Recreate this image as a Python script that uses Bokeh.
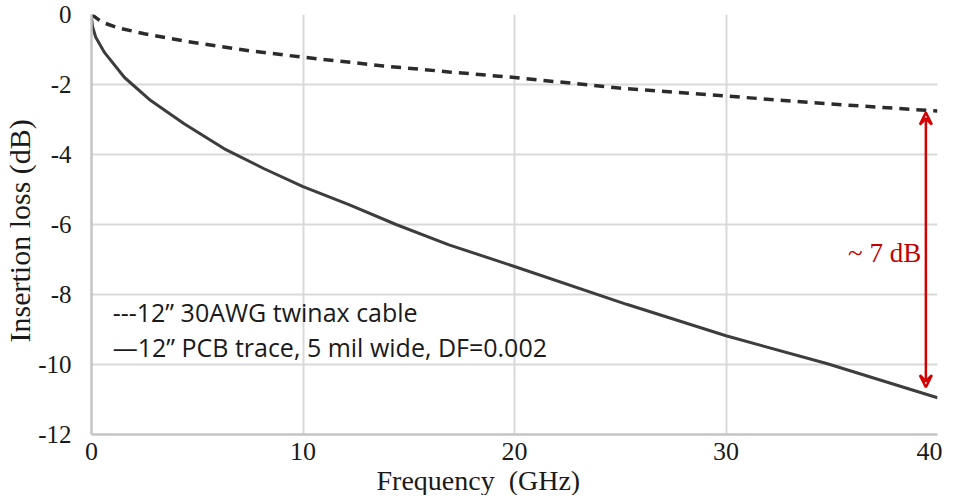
from bokeh.plotting import figure
from bokeh.models import Label, Arrow, VeeHead, FixedTicker, Range1d, Title
from bokeh.embed import file_html
from bokeh.resources import INLINE

# ---- data ----
freq_twinax = [0, 0.5, 1.25, 2.5, 4.4, 7.5, 10, 13.8, 16.9, 20, 25.3, 30, 34.8, 40]
loss_twinax = [0, -0.22, -0.38, -0.55, -0.76, -1.04, -1.22, -1.47, -1.64, -1.8, -2.12, -2.33, -2.55, -2.76]

freq_pcb = [0, 0.05, 0.2, 0.62, 1.56, 2.8, 4.38, 6.26, 8.14, 10, 12.2, 14.4, 16.9, 20, 25.3, 30, 34.8, 40]
loss_pcb = [-0.1, -0.35, -0.65, -1.09, -1.8, -2.46, -3.12, -3.83, -4.4, -4.92, -5.44, -6.0, -6.58, -7.2, -8.28, -9.18, -9.98, -10.95]

x_ticks = [0, 10, 20, 30, 40]
y_ticks = [-12, -10, -8, -6, -4, -2, 0]

x_title = "Frequency\u00a0 (GHz)"
y_title = "Insertion loss (dB)"
legend_texts = ["---12\u201d 30AWG twinax cable", "\u201412\u201d PCB trace, 5 mil wide, DF=0.002"]
gap_text = "~ 7 dB"
gap_freq = 39.45
gap_top = -2.8
gap_bottom = -10.65

p = figure(frame_width=846, frame_height=420, output_backend="svg", toolbar_location=None,
           x_range=Range1d(0, 40), y_range=Range1d(-12, 0),
           min_border_left=89, min_border_right=5, min_border_top=14, min_border_bottom=60)
p.background_fill_color = "white"
p.border_fill_color = "white"
p.outline_line_color = None

for ax in (p.xaxis[0], p.yaxis[0]):
    ax.axis_line_color = "#c4c4c4"
    ax.axis_line_width = 2.5
    ax.major_tick_line_color = None
    ax.minor_tick_line_color = None
    ax.major_label_text_font = "Liberation Serif"
    ax.major_label_text_color = "#1a1a1a"

p.xaxis.major_label_text_font_size = "26px"
p.yaxis.major_label_text_font_size = "25px"
p.xaxis.ticker = FixedTicker(ticks=x_ticks)
p.yaxis.ticker = FixedTicker(ticks=y_ticks)
p.yaxis.major_label_overrides = {t: str(t) for t in y_ticks}
p.xaxis.major_label_standoff = 2
p.yaxis.major_label_standoff = 14

p.xgrid.ticker = FixedTicker(ticks=x_ticks)
p.ygrid.ticker = FixedTicker(ticks=y_ticks)
p.grid.grid_line_color = "#d9d9d9"
p.grid.grid_line_width = 2

# curves
p.line(freq_twinax, loss_twinax, line_color="#2b2b2b", line_width=3.5, line_dash="10 7")
p.line(freq_pcb, loss_pcb, line_color="#3d3d3d", line_width=3)

# axis titles
p.add_layout(Title(text=x_title, align="left", offset=285, standoff=0,
                   text_font="Liberation Serif", text_font_size="28px",
                   text_font_style="normal", text_color="#1a1a1a"), "below")
p.add_layout(Title(text=y_title, align="left", offset=92, standoff=0,
                   text_font="Liberation Serif", text_font_size="30px",
                   text_font_style="normal", text_color="#1a1a1a"), "left")

# legend texts
p.add_layout(Label(x=1.0, y=-8.51, text=legend_texts[0], text_font="Open Sans",
                   text_font_size="25px", text_color="#1a1a1a", text_baseline="alphabetic"))
p.add_layout(Label(x=1.0, y=-9.51, text=legend_texts[1], text_font="Open Sans",
                   text_font_size="25px", text_color="#1a1a1a", text_baseline="alphabetic"))

# gap annotation
red = "#d40000"
p.add_layout(Arrow(x_start=gap_freq, y_start=gap_bottom, x_end=gap_freq, y_end=gap_top,
                   line_color=red, line_width=2.5,
                   start=VeeHead(size=12, line_color=red, line_width=2.5, fill_color=None, fill_alpha=0),
                   end=VeeHead(size=12, line_color=red, line_width=2.5, fill_color=None, fill_alpha=0)))
p.add_layout(Label(x=37.5, y=-6.8, text=gap_text, text_font="Liberation Serif",
                   text_font_size="27px", text_color="#c00000", text_align="center",
                   text_baseline="middle"))

open("out.html", "w").write(file_html(p, INLINE))
